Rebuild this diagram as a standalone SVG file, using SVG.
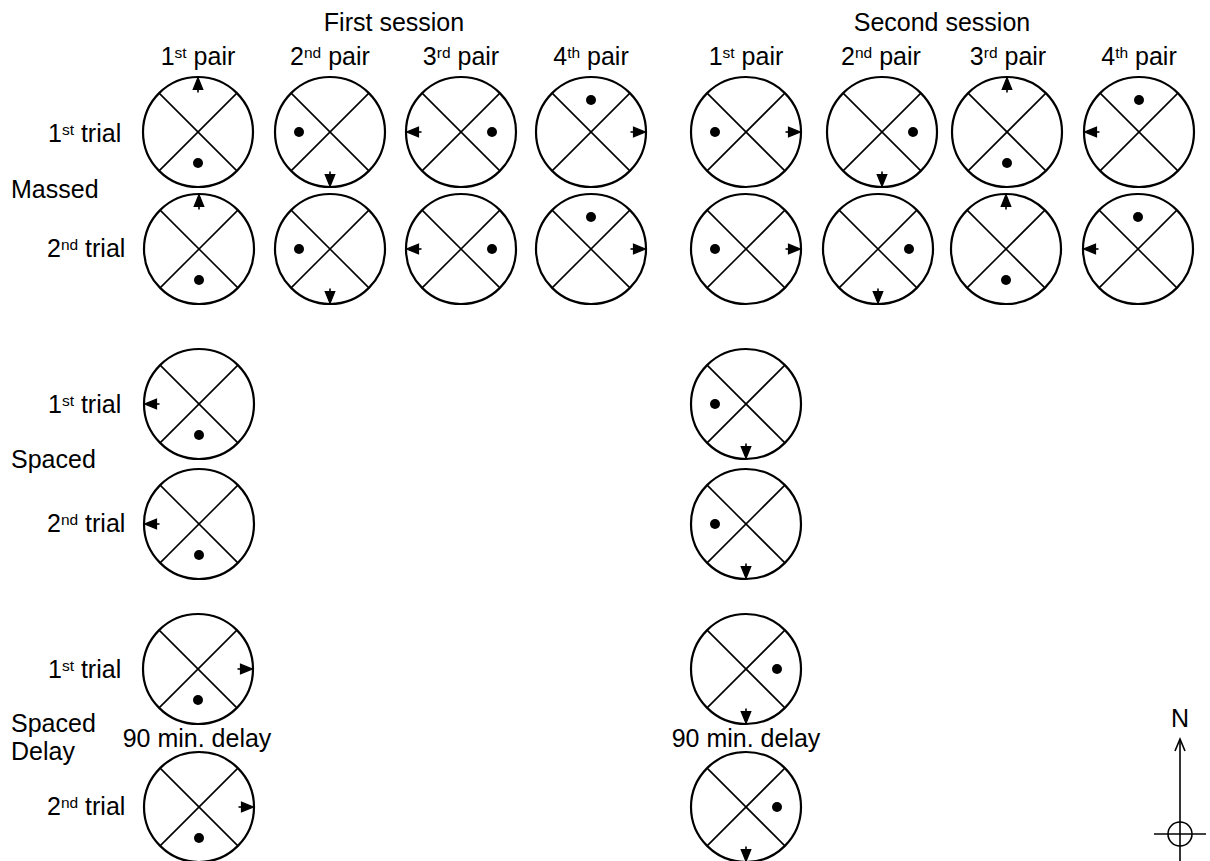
<svg xmlns="http://www.w3.org/2000/svg" xmlns:xlink="http://www.w3.org/1999/xlink" width="1210" height="861" viewBox="0 0 1210 861">
<style>
text{font-family:"Liberation Sans",Arial,sans-serif;font-size:25px;fill:#000}
.sup{font-size:15.5px}
.c{text-anchor:middle}
.ring{fill:none;stroke:#000;stroke-width:2.2}
.x{stroke:#000;stroke-width:1.6}
.dot{fill:#000}
.arr{fill:#000;stroke:#000;stroke-width:1.2}
</style>
<defs>
<g id="ring">
<circle class="ring" r="55"/>
<line class="x" x1="-38.9" y1="-38.9" x2="38.9" y2="38.9"/>
<line class="x" x1="38.9" y1="-38.9" x2="-38.9" y2="38.9"/>
</g>
<g id="arrow">
<path class="arr" d="M0,-54.5 L-4.8,-42.5 L4.8,-42.5 Z"/>
<line x1="0" y1="-43" x2="0" y2="-39.5" stroke="#000" stroke-width="1.6"/>
</g>
<circle id="dB" class="dot" cx="0" cy="31" r="5"/>
<circle id="dT" class="dot" cx="0" cy="-32" r="5"/>
<circle id="dL" class="dot" cx="-31" cy="0" r="5"/>
<circle id="dR" class="dot" cx="31" cy="0" r="5"/>
</defs>

<g id="labels">
<text class="c" x="394" y="31">First session</text>
<text class="c" x="942" y="31">Second session</text>
<text class="c" x="198" y="65">1<tspan class="sup" dy="-7">st</tspan><tspan dy="7"> pair</tspan></text>
<text class="c" x="330" y="65">2<tspan class="sup" dy="-7">nd</tspan><tspan dy="7"> pair</tspan></text>
<text class="c" x="461" y="65">3<tspan class="sup" dy="-7">rd</tspan><tspan dy="7"> pair</tspan></text>
<text class="c" x="591" y="65">4<tspan class="sup" dy="-7">th</tspan><tspan dy="7"> pair</tspan></text>
<text class="c" x="746" y="65">1<tspan class="sup" dy="-7">st</tspan><tspan dy="7"> pair</tspan></text>
<text class="c" x="881" y="65">2<tspan class="sup" dy="-7">nd</tspan><tspan dy="7"> pair</tspan></text>
<text class="c" x="1008" y="65">3<tspan class="sup" dy="-7">rd</tspan><tspan dy="7"> pair</tspan></text>
<text class="c" x="1139" y="65">4<tspan class="sup" dy="-7">th</tspan><tspan dy="7"> pair</tspan></text>

<text x="48" y="142">1<tspan class="sup" dy="-7">st</tspan><tspan dy="7"> trial</tspan></text>
<text x="11" y="198">Massed</text>
<text x="47" y="257">2<tspan class="sup" dy="-7">nd</tspan><tspan dy="7"> trial</tspan></text>

<text x="48" y="413">1<tspan class="sup" dy="-7">st</tspan><tspan dy="7"> trial</tspan></text>
<text x="11" y="468">Spaced</text>
<text x="47" y="532">2<tspan class="sup" dy="-7">nd</tspan><tspan dy="7"> trial</tspan></text>

<text x="48" y="678">1<tspan class="sup" dy="-7">st</tspan><tspan dy="7"> trial</tspan></text>
<text x="11" y="732">Spaced</text>
<text x="11" y="760">Delay</text>
<text x="47" y="815">2<tspan class="sup" dy="-7">nd</tspan><tspan dy="7"> trial</tspan></text>
<text class="c" x="197" y="747">90 min. delay</text>
<text class="c" x="746" y="747">90 min. delay</text>
</g>

<g id="connectors"></g>

<!-- Massed, first session -->
<g id="m-s1-p1-t1" transform="translate(198,132)"><use xlink:href="#ring"/><use xlink:href="#dB"/><use xlink:href="#arrow"/></g>
<g id="m-s1-p1-t2" transform="translate(199,249)"><use xlink:href="#ring"/><use xlink:href="#dB"/><use xlink:href="#arrow"/></g>
<g id="m-s1-p2-t1" transform="translate(330,132)"><use xlink:href="#ring"/><use xlink:href="#dL"/><use xlink:href="#arrow" transform="rotate(180)"/></g>
<g id="m-s1-p2-t2" transform="translate(330,249)"><use xlink:href="#ring"/><use xlink:href="#dL"/><use xlink:href="#arrow" transform="rotate(180)"/></g>
<g id="m-s1-p3-t1" transform="translate(461,132)"><use xlink:href="#ring"/><use xlink:href="#dR"/><use xlink:href="#arrow" transform="rotate(270)"/></g>
<g id="m-s1-p3-t2" transform="translate(461,249)"><use xlink:href="#ring"/><use xlink:href="#dR"/><use xlink:href="#arrow" transform="rotate(270)"/></g>
<g id="m-s1-p4-t1" transform="translate(591,132)"><use xlink:href="#ring"/><use xlink:href="#dT"/><use xlink:href="#arrow" transform="rotate(90)"/></g>
<g id="m-s1-p4-t2" transform="translate(591,249)"><use xlink:href="#ring"/><use xlink:href="#dT"/><use xlink:href="#arrow" transform="rotate(90)"/></g>

<!-- Massed, second session -->
<g id="m-s2-p1-t1" transform="translate(746,132)"><use xlink:href="#ring"/><use xlink:href="#dL"/><use xlink:href="#arrow" transform="rotate(90)"/></g>
<g id="m-s2-p1-t2" transform="translate(746,249)"><use xlink:href="#ring"/><use xlink:href="#dL"/><use xlink:href="#arrow" transform="rotate(90)"/></g>
<g id="m-s2-p2-t1" transform="translate(882,132)"><use xlink:href="#ring"/><use xlink:href="#dR"/><use xlink:href="#arrow" transform="rotate(180)"/></g>
<g id="m-s2-p2-t2" transform="translate(878,249)"><use xlink:href="#ring"/><use xlink:href="#dR"/><use xlink:href="#arrow" transform="rotate(180)"/></g>
<g id="m-s2-p3-t1" transform="translate(1007,132)"><use xlink:href="#ring"/><use xlink:href="#dB"/><use xlink:href="#arrow"/></g>
<g id="m-s2-p3-t2" transform="translate(1006,249)"><use xlink:href="#ring"/><use xlink:href="#dB"/><use xlink:href="#arrow"/></g>
<g id="m-s2-p4-t1" transform="translate(1139,132)"><use xlink:href="#ring"/><use xlink:href="#dT"/><use xlink:href="#arrow" transform="rotate(270)"/></g>
<g id="m-s2-p4-t2" transform="translate(1138,249)"><use xlink:href="#ring"/><use xlink:href="#dT"/><use xlink:href="#arrow" transform="rotate(270)"/></g>

<!-- Spaced -->
<g id="s-s1-t1" transform="translate(199,404)"><use xlink:href="#ring"/><use xlink:href="#dB"/><use xlink:href="#arrow" transform="rotate(270)"/></g>
<g id="s-s1-t2" transform="translate(199,524)"><use xlink:href="#ring"/><use xlink:href="#dB"/><use xlink:href="#arrow" transform="rotate(270)"/></g>
<g id="s-s2-t1" transform="translate(746,404)"><use xlink:href="#ring"/><use xlink:href="#dL"/><use xlink:href="#arrow" transform="rotate(180)"/></g>
<g id="s-s2-t2" transform="translate(746,524)"><use xlink:href="#ring"/><use xlink:href="#dL"/><use xlink:href="#arrow" transform="rotate(180)"/></g>

<!-- Spaced Delay -->
<g id="d-s1-t1" transform="translate(198,669)"><use xlink:href="#ring"/><use xlink:href="#dB"/><use xlink:href="#arrow" transform="rotate(90)"/></g>
<g id="d-s1-t2" transform="translate(199,807)"><use xlink:href="#ring"/><use xlink:href="#dB"/><use xlink:href="#arrow" transform="rotate(90)"/></g>
<g id="d-s2-t1" transform="translate(746,669)"><use xlink:href="#ring"/><use xlink:href="#dR"/><use xlink:href="#arrow" transform="rotate(180)"/></g>
<g id="d-s2-t2" transform="translate(746,807)"><use xlink:href="#ring"/><use xlink:href="#dR"/><use xlink:href="#arrow" transform="rotate(180)"/></g>

<!-- Compass -->
<g id="compass">
<text class="c" x="1180" y="727">N</text>
<line x1="1180" y1="739" x2="1180" y2="861" stroke="#000" stroke-width="1.6"/>
<path d="M1175,751 L1180,739 L1185,751" fill="none" stroke="#000" stroke-width="1.6"/>
<circle cx="1180" cy="834" r="12" fill="none" stroke="#000" stroke-width="1.6"/>
<line x1="1154" y1="834" x2="1206" y2="834" stroke="#000" stroke-width="1.6"/>
</g>
</svg>
